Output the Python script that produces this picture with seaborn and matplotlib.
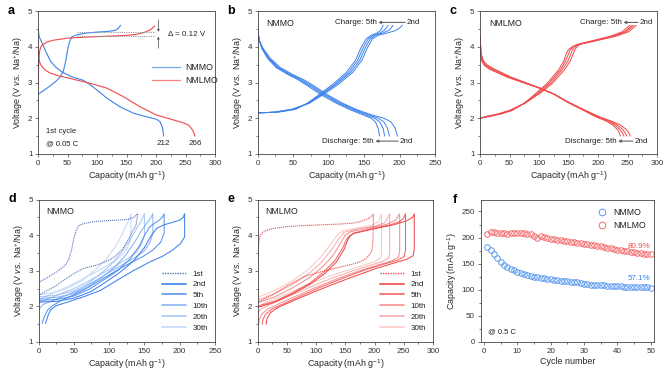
import numpy as np
import seaborn as sns
import matplotlib
matplotlib.use("Agg")
import matplotlib.pyplot as plt
from matplotlib.ticker import MultipleLocator
from matplotlib.lines import Line2D

BLUE = "#3d82ec"
RED = "#f04a4c"
BLUE_DOT = "#5a78b8"

# ---- panel a: 1st cycle at 0.05 C
a_nmmo_chg_q = [0, 10, 20, 30, 38, 43, 47, 50, 53, 57, 65, 80, 100, 120, 131, 136, 140]
a_nmmo_chg_v = [2.67, 2.78, 2.90, 3.03, 3.16, 3.32, 3.60, 3.90, 4.12, 4.27, 4.33, 4.38, 4.41, 4.43, 4.46, 4.51, 4.60]
a_nmmo_dis_q = [0, 2, 7, 14, 21, 30, 40, 57, 77, 90, 100, 117, 139, 162, 184, 201, 207, 211, 213]
a_nmmo_dis_v = [4.50, 4.28, 4.10, 3.84, 3.60, 3.43, 3.30, 3.16, 3.06, 2.92, 2.79, 2.56, 2.32, 2.14, 2.04, 1.97, 1.90, 1.74, 1.50]
a_nmlmo_chg_q = [0, 0.5, 1, 2, 3, 5, 8, 15, 25, 50, 80, 110, 140, 165, 180, 190, 198]
a_nmlmo_chg_v = [2.84, 3.10, 3.45, 3.75, 3.90, 4.00, 4.06, 4.13, 4.18, 4.24, 4.27, 4.29, 4.31, 4.34, 4.40, 4.47, 4.58]
a_nmlmo_dis_q = [0, 0.5, 1, 2, 4, 8, 12, 20, 32, 60, 88, 117, 145, 173, 201, 230, 245, 255, 260, 264, 266]
a_nmlmo_dis_v = [4.20, 3.95, 3.75, 3.62, 3.52, 3.42, 3.35, 3.27, 3.20, 3.09, 2.98, 2.84, 2.60, 2.32, 2.09, 1.95, 1.88, 1.81, 1.72, 1.60, 1.50]

# ---- panel b: NMMO cycles 2-5
b_chg_v = [2.15, 2.17, 2.25, 2.42, 2.68, 2.95, 3.28, 3.62, 3.98, 4.22, 4.32, 4.38, 4.45, 4.52, 4.60]
b_chg2_q = [0, 22, 48, 73, 94, 114, 134, 147, 155, 162, 170, 182, 194, 200, 204]
b_chg3_q = [0, 25, 50, 72, 92, 111, 131, 144, 152, 159, 166, 176, 184, 188, 191]
b_chg4_q = [0, 27, 52, 71, 90, 109, 128, 141, 149, 156, 163, 172, 178, 181, 184]
b_chg5_q = [0, 29, 54, 70, 88, 106, 125, 138, 146, 153, 160, 168, 173, 175, 177]
b_dis_v = [4.45, 4.15, 3.95, 3.68, 3.42, 3.22, 3.08, 2.90, 2.64, 2.42, 2.24, 2.10, 2.00, 1.90, 1.72, 1.50]
b_dis2_q = [0, 3, 8, 18, 32, 50, 65, 80, 100, 120, 140, 160, 178, 188, 194, 197]
b_dis3_q = [0, 3, 7, 16, 30, 47, 62, 77, 97, 117, 137, 156, 170, 178, 183, 186]
b_dis4_q = [0, 3, 7, 15, 28, 45, 59, 74, 94, 114, 134, 152, 165, 172, 177, 179]
b_dis5_q = [0, 3, 6, 14, 26, 43, 57, 71, 91, 111, 130, 148, 160, 166, 170, 172]

# ---- panel c: NMLMO cycles 2-5
c_chg_v = [2.00, 2.05, 2.12, 2.22, 2.42, 2.70, 2.98, 3.35, 3.60, 3.80, 3.92, 4.02, 4.07, 4.18, 4.30, 4.42, 4.60]
c_chg2_q = [0, 10, 30, 50, 76, 102, 123, 143, 153, 158, 161, 165, 171, 200, 232, 252, 265]
c_chg3_q = [0, 12, 32, 52, 76, 100, 120, 139, 149, 154, 157, 163, 169, 198, 229, 248, 261]
c_chg4_q = [0, 14, 34, 53, 75, 97, 117, 136, 145, 150, 153, 160, 168, 196, 225, 245, 258]
c_chg5_q = [0, 16, 36, 55, 75, 95, 114, 133, 142, 146, 150, 158, 166, 193, 222, 241, 254]
c_dis_v = [4.30, 3.80, 3.60, 3.48, 3.38, 3.15, 3.00, 2.85, 2.68, 2.45, 2.25, 2.05, 1.92, 1.82, 1.70, 1.60, 1.50]
c_dis2_q = [0, 2, 6, 13, 24, 53, 77, 101, 125, 150, 175, 201, 223, 237, 247, 252, 255]
c_dis3_q = [0, 2, 5, 11, 21, 50, 75, 100, 125, 150, 174, 199, 220, 232, 241, 246, 249]
c_dis4_q = [0, 1, 4, 9, 18, 48, 74, 100, 125, 149, 173, 197, 217, 228, 236, 241, 244]
c_dis5_q = [0, 1, 3, 7, 15, 46, 72, 99, 124, 148, 172, 195, 214, 224, 232, 236, 238]

# ---- panel d: NMMO long cycling (charge then discharge drawn back)
d_chg2_q = [0, 25, 50, 75, 95, 115, 135, 150, 160, 168, 178, 190, 200, 205, 207]
d_chg2_v = [2.12, 2.14, 2.23, 2.42, 2.68, 2.95, 3.28, 3.65, 4.00, 4.20, 4.29, 4.36, 4.42, 4.50, 4.60]
d_dis2_q = [207, 207, 201, 190, 175, 158, 135, 111, 88, 64, 41, 25, 17, 13, 10]
d_dis2_v = [4.60, 3.95, 3.76, 3.58, 3.40, 3.25, 3.01, 2.73, 2.45, 2.27, 2.12, 2.02, 1.90, 1.72, 1.52]
d_chg5_q = [0, 25, 50, 72, 92, 112, 130, 143, 151, 157, 164, 171, 176, 178]
d_chg5_v = [2.17, 2.19, 2.29, 2.48, 2.74, 3.00, 3.34, 3.70, 4.02, 4.22, 4.33, 4.42, 4.52, 4.60]
d_dis5_q = [178, 178, 173, 162, 148, 130, 110, 88, 66, 45, 30, 20, 13, 8, 5]
d_dis5_v = [4.60, 4.05, 3.80, 3.58, 3.40, 3.22, 3.00, 2.74, 2.48, 2.28, 2.14, 2.02, 1.90, 1.70, 1.52]
d_chg10_q = [0, 25, 50, 70, 90, 108, 124, 136, 145, 152, 158, 162]
d_chg10_v = [2.22, 2.25, 2.36, 2.55, 2.82, 3.10, 3.45, 3.80, 4.10, 4.30, 4.45, 4.60]
d_dis10_q = [162, 162, 158, 150, 137, 118, 98, 78, 58, 38, 20, 6, -2, -6]
d_dis10_v = [4.60, 4.05, 3.80, 3.56, 3.37, 3.16, 2.93, 2.69, 2.47, 2.30, 2.16, 2.05, 1.85, 1.50]
d_chg20_q = [0, 25, 50, 70, 88, 105, 120, 132, 140, 146, 150]
d_chg20_v = [2.27, 2.31, 2.44, 2.64, 2.92, 3.22, 3.58, 3.95, 4.22, 4.42, 4.60]
d_dis20_q = [150, 150, 146, 139, 127, 109, 90, 70, 50, 30, 12, 0, -5]
d_dis20_v = [4.60, 4.00, 3.76, 3.53, 3.35, 3.14, 2.92, 2.70, 2.50, 2.34, 2.20, 2.10, 1.50]
d_chg30_q = [0, 20, 40, 60, 78, 95, 108, 118, 125, 129, 131]
d_chg30_v = [2.33, 2.38, 2.50, 2.70, 2.98, 3.30, 3.65, 4.00, 4.30, 4.48, 4.60]
d_dis30_q = [131, 131, 128, 121, 111, 95, 77, 58, 40, 22, 8, 0, -4]
d_dis30_v = [4.60, 4.00, 3.72, 3.50, 3.32, 3.12, 2.92, 2.72, 2.54, 2.38, 2.25, 2.16, 1.50]

# ---- panel e: NMLMO long cycling
e_chg2_q = [0, 10, 30, 60, 90, 115, 135, 148, 154, 158, 165, 200, 235, 255, 265, 268]
e_chg2_v = [1.97, 2.02, 2.12, 2.35, 2.62, 2.92, 3.25, 3.60, 3.85, 3.97, 4.05, 4.18, 4.30, 4.40, 4.50, 4.60]
e_dis2_q = [268, 268, 266, 255, 230, 200, 175, 150, 120, 90, 60, 35, 22, 16, 15]
e_dis2_v = [4.60, 3.60, 3.42, 3.32, 3.20, 3.05, 2.90, 2.75, 2.56, 2.36, 2.15, 1.97, 1.82, 1.65, 1.50]
e_chg5_q = [0, 30, 60, 90, 113, 133, 146, 152, 157, 165, 195, 225, 243, 250, 253]
e_chg5_v = [2.00, 2.15, 2.38, 2.66, 2.96, 3.30, 3.65, 3.88, 3.98, 4.06, 4.18, 4.28, 4.38, 4.48, 4.60]
e_dis5_q = [253, 253, 251, 240, 215, 185, 160, 135, 105, 75, 48, 25, 14, 9, 8]
e_dis5_v = [4.60, 3.58, 3.40, 3.30, 3.18, 3.03, 2.88, 2.72, 2.52, 2.30, 2.10, 1.93, 1.78, 1.62, 1.50]
e_chg10_q = [0, 30, 60, 90, 112, 130, 142, 150, 160, 190, 220, 236, 243]
e_chg10_v = [2.10, 2.27, 2.52, 2.82, 3.12, 3.45, 3.78, 4.00, 4.10, 4.20, 4.30, 4.42, 4.60]
e_dis10_q = [243, 243, 241, 230, 205, 175, 150, 125, 95, 65, 40, 18, 7, 3, 2]
e_dis10_v = [4.60, 3.55, 3.38, 3.28, 3.16, 3.00, 2.86, 2.70, 2.50, 2.28, 2.10, 1.93, 1.78, 1.62, 1.50]
e_chg20_q = [0, 30, 60, 90, 110, 127, 140, 148, 170, 200, 218, 226]
e_chg20_v = [2.18, 2.36, 2.62, 2.95, 3.25, 3.60, 3.92, 4.08, 4.17, 4.25, 4.35, 4.60]
e_dis20_q = [226, 226, 224, 213, 190, 160, 135, 110, 80, 50, 25, 5, -3, -6]
e_dis20_v = [4.60, 3.50, 3.35, 3.26, 3.14, 2.98, 2.84, 2.68, 2.47, 2.26, 2.08, 1.92, 1.75, 1.50]
e_chg30_q = [0, 30, 60, 88, 108, 124, 137, 146, 170, 195, 207, 212]
e_chg30_v = [2.25, 2.45, 2.72, 3.05, 3.38, 3.72, 4.02, 4.12, 4.20, 4.27, 4.38, 4.60]
e_dis30_q = [212, 212, 210, 199, 175, 145, 120, 95, 65, 35, 10, -8, -12]
e_dis30_v = [4.60, 3.50, 3.35, 3.25, 3.12, 2.97, 2.83, 2.67, 2.46, 2.25, 2.08, 1.90, 1.50]

cycle_labels = ["2nd", "5th", "10th", "20th", "30th"]
cycle_alpha = [1.0, 0.85, 0.6, 0.45, 0.3]

# ---- panel f: cycling at 0.5 C
cycle_no = list(range(1, 51))
f_nmmo = [182, 176, 168, 160, 153, 148, 144, 140, 137, 134, 132, 130, 128, 127, 125, 124, 123, 122, 121, 120,
          119, 118, 117, 116, 116, 115, 115, 114, 113, 112, 111, 110, 110, 109, 109, 109, 108, 108, 108, 107,
          107, 106, 106, 106, 106, 105, 105, 105, 105, 104]
f_nmlmo = [207, 210, 211, 209, 209, 208, 207, 208, 209, 209, 209, 208, 207, 206, 203, 200, 203, 201, 199, 197,
           197, 195, 196, 194, 193, 192, 191, 190, 189, 188, 187, 186, 185, 184, 183, 182, 181, 180, 179, 177,
           176, 175, 174, 173, 172, 171, 170, 169, 168, 168]

sns.set_style("ticks")
plt.rcParams['font.family'] = ['Liberation Sans', 'DejaVu Sans']
plt.rcParams['mathtext.fontset'] = 'custom'
plt.rcParams['mathtext.rm'] = 'Liberation Sans'
plt.rcParams['mathtext.it'] = 'Liberation Sans:italic'
plt.rcParams['axes.edgecolor'] = '#444444'
plt.rcParams['text.color'] = '#222222'

FS_TICK = 5.8
FS_LAB = 6.4
FS_TXT = 5.8
VLABEL = "Voltage (V " + r"$\it{vs.}$" + " Na$^{+}$/Na)"
QLABEL = "Capacity (mAh g$^{-1}$)"

fig = plt.figure(figsize=(6.7, 3.74), dpi=100)


def add_ax(l, r, t, b):
    return fig.add_axes([l / 670, 1 - b / 374, (r - l) / 670, (b - t) / 374])


def style(ax, xlim, xstep, ylim, ystep, xlabel, ylabel, letter):
    ax.set_xlim(*xlim)
    ax.set_ylim(*ylim)
    ax.xaxis.set_major_locator(MultipleLocator(xstep))
    ax.xaxis.set_minor_locator(MultipleLocator(xstep / 2))
    ax.yaxis.set_major_locator(MultipleLocator(ystep))
    ax.yaxis.set_minor_locator(MultipleLocator(ystep / 2))
    ax.tick_params(which='major', direction='out', length=2.5, width=0.5, labelsize=FS_TICK, pad=1.5,
                   colors='#444444', labelcolor='#333333')
    ax.tick_params(which='minor', direction='out', length=1.5, width=0.5, colors='#444444')
    for s in ax.spines.values():
        s.set_linewidth(0.6)
        s.set_visible(True)
    ax.set_xlabel(xlabel, fontsize=FS_LAB, labelpad=2)
    ax.set_ylabel(ylabel, fontsize=FS_LAB, labelpad=2)
    ax.text(-0.15, 1.0, letter, transform=ax.transAxes, fontsize=9, fontweight='bold',
            ha='center', va='center', color='black')


def curve(ax, q, v, color, lw=0.7, alpha=1.0, ls='-'):
    sns.lineplot(x=q, y=v, ax=ax, sort=False, estimator=None, color=color, lw=lw, alpha=alpha,
                 linestyle=ls)


def arrow(ax, x0, x1, y):
    ax.annotate('', xy=(x1, y), xytext=(x0, y),
                arrowprops=dict(arrowstyle='-|>', color='#666666', lw=0.8, mutation_scale=4,
                                shrinkA=0, shrinkB=0))


# ---------- a
ax = add_ax(38, 215, 11, 154)
curve(ax, a_nmmo_chg_q, a_nmmo_chg_v, BLUE, 0.8)
curve(ax, a_nmmo_dis_q, a_nmmo_dis_v, BLUE, 0.8)
curve(ax, a_nmlmo_chg_q, a_nmlmo_chg_v, RED, 0.8)
curve(ax, a_nmlmo_dis_q, a_nmlmo_dis_v, RED, 0.8)
ax.hlines([4.41, 4.29], 66, 198, colors='#999999', linestyles=(0, (1, 1)), lw=0.8)
ax.annotate('', xy=(204, 4.42), xytext=(204, 4.75),
            arrowprops=dict(arrowstyle='-|>', color='#444444', lw=0.5, mutation_scale=3, shrinkA=0, shrinkB=0))
ax.annotate('', xy=(204, 4.28), xytext=(204, 3.96),
            arrowprops=dict(arrowstyle='-|>', color='#444444', lw=0.5, mutation_scale=3, shrinkA=0, shrinkB=0))
ax.text(221, 4.35, "Δ = 0.12 V", fontsize=FS_TXT, va='center')
ax.text(13, 1.62, "1st cycle", fontsize=FS_TXT - 0.3, va='center')
ax.text(13, 1.3, "@ 0.05 C", fontsize=FS_TXT - 0.3, va='center')
ax.text(212, 1.3, "212", fontsize=FS_TXT, va='center', ha='center')
ax.text(266, 1.3, "266", fontsize=FS_TXT, va='center', ha='center')
hs = [Line2D([], [], color=BLUE, lw=0.9, alpha=0.7), Line2D([], [], color=RED, lw=0.9, alpha=0.7)]
ax.legend(hs, ["NMMO", "NMLMO"], loc='center left', bbox_to_anchor=(0.6, 0.56), frameon=False,
          fontsize=FS_TXT + 0.5, handlelength=3.2, handletextpad=0.6, labelspacing=0.5)
style(ax, (0, 300), 50, (1, 5), 1, QLABEL, VLABEL, 'a')

# ---------- b
ax = add_ax(257.5, 435, 11, 154)
for q in [b_chg2_q, b_chg3_q, b_chg4_q, b_chg5_q]:
    curve(ax, q, b_chg_v, BLUE)
for q in [b_dis2_q, b_dis3_q, b_dis4_q, b_dis5_q]:
    curve(ax, q, b_dis_v, BLUE)
ax.text(13, 4.65, "NMMO", fontsize=FS_TXT + 0.5, va='center')
ax.text(168, 4.68, "Charge: 5th", fontsize=FS_TXT, va='center', ha='right')
arrow(ax, 208, 170, 4.68)
ax.text(210, 4.68, "2nd", fontsize=FS_TXT, va='center')
ax.text(163, 1.36, "Discharge: 5th", fontsize=FS_TXT, va='center', ha='right')
arrow(ax, 198, 166, 1.36)
ax.text(200, 1.36, "2nd", fontsize=FS_TXT, va='center')
style(ax, (0, 250), 50, (1, 5), 1, QLABEL, VLABEL, 'b')

# ---------- c
ax = add_ax(480, 657, 11, 154)
for q in [c_chg2_q, c_chg3_q, c_chg4_q, c_chg5_q]:
    curve(ax, q, c_chg_v, RED)
for q in [c_dis2_q, c_dis3_q, c_dis4_q, c_dis5_q]:
    curve(ax, q, c_dis_v, RED)
ax.text(15, 4.65, "NMLMO", fontsize=FS_TXT + 0.5, va='center')
ax.text(240, 4.68, "Charge: 5th", fontsize=FS_TXT, va='center', ha='right')
arrow(ax, 268, 243, 4.68)
ax.text(270, 4.68, "2nd", fontsize=FS_TXT, va='center')
ax.text(231, 1.36, "Discharge: 5th", fontsize=FS_TXT, va='center', ha='right')
arrow(ax, 259, 234, 1.36)
ax.text(262, 1.36, "2nd", fontsize=FS_TXT, va='center')
style(ax, (0, 300), 50, (1, 5), 1, QLABEL, VLABEL, 'c')

# ---------- d
ax = add_ax(38.5, 215, 199.5, 342)
d_first_q = a_nmmo_chg_q + list(140 - np.array(a_nmmo_dis_q))
d_first_v = a_nmmo_chg_v + a_nmmo_dis_v
curve(ax, d_first_q, d_first_v, BLUE_DOT, 0.8, 1.0, (0, (1, 0.8)))
d_sets = [(d_chg2_q, d_chg2_v, d_dis2_q, d_dis2_v), (d_chg5_q, d_chg5_v, d_dis5_q, d_dis5_v),
          (d_chg10_q, d_chg10_v, d_dis10_q, d_dis10_v), (d_chg20_q, d_chg20_v, d_dis20_q, d_dis20_v),
          (d_chg30_q, d_chg30_v, d_dis30_q, d_dis30_v)]
for (cq, cv, dq, dv), al in zip(d_sets, cycle_alpha):
    curve(ax, cq + dq, cv + dv, BLUE, 0.75, al)
ax.text(11, 4.65, "NMMO", fontsize=FS_TXT + 0.5, va='center')
hs = [Line2D([], [], color=BLUE_DOT, lw=1.0, ls=(0, (1, 0.8)))]
hs += [Line2D([], [], color=BLUE, lw=1.2, alpha=al) for al in cycle_alpha]
ax.legend(hs, ["1st"] + cycle_labels, loc='lower right', bbox_to_anchor=(1.0, 0.02), frameon=False,
          fontsize=FS_TXT, handlelength=3.0, handletextpad=0.8, labelspacing=0.4)
style(ax, (0, 250), 50, (1, 5), 1, QLABEL, VLABEL, 'd')

# ---------- e
ax = add_ax(257.5, 433, 199.5, 342)
e_first_q = a_nmlmo_chg_q + list(198 - np.array(a_nmlmo_dis_q))
e_first_v = a_nmlmo_chg_v + a_nmlmo_dis_v
curve(ax, e_first_q, e_first_v, RED, 0.8, 1.0, (0, (1, 0.8)))
e_sets = [(e_chg2_q, e_chg2_v, e_dis2_q, e_dis2_v), (e_chg5_q, e_chg5_v, e_dis5_q, e_dis5_v),
          (e_chg10_q, e_chg10_v, e_dis10_q, e_dis10_v), (e_chg20_q, e_chg20_v, e_dis20_q, e_dis20_v),
          (e_chg30_q, e_chg30_v, e_dis30_q, e_dis30_v)]
for (cq, cv, dq, dv), al in zip(e_sets, cycle_alpha):
    curve(ax, cq + dq, cv + dv, RED, 0.75, al)
ax.text(13, 4.65, "NMLMO", fontsize=FS_TXT + 0.5, va='center')
hs = [Line2D([], [], color=RED, lw=1.0, ls=(0, (1, 0.8)))]
hs += [Line2D([], [], color=RED, lw=1.2, alpha=al) for al in cycle_alpha]
ax.legend(hs, ["1st"] + cycle_labels, loc='lower right', bbox_to_anchor=(1.0, 0.02), frameon=False,
          fontsize=FS_TXT, handlelength=3.0, handletextpad=0.8, labelspacing=0.4)
style(ax, (0, 300), 50, (1, 5), 1, QLABEL, VLABEL, 'e')

# ---------- f
ax = add_ax(480.5, 654, 200, 342)
sns.lineplot(x=cycle_no, y=f_nmmo, ax=ax, marker='o', linestyle='', mfc='none', mec="#5b9af0",
             ms=4.0, mew=0.7, label="NMMO")
sns.lineplot(x=cycle_no, y=f_nmlmo, ax=ax, marker='o', linestyle='', mfc='none', mec="#f46a6a",
             ms=4.0, mew=0.7, label="NMLMO")
ax.legend(loc='upper right', bbox_to_anchor=(1.0, 1.0), frameon=False, fontsize=FS_TXT + 0.5,
          handletextpad=0.3, labelspacing=0.5, markerscale=1.2)
ax.text(50, 183, "80.9%", color="#f05050", fontsize=FS_TXT, ha='right', va='center')
ax.text(50, 122, "57.1%", color="#3d82ec", fontsize=FS_TXT, ha='right', va='center')
ax.text(1.3, 20, "@ 0.5 C", fontsize=FS_TXT - 0.3, va='center')
style(ax, (-1, 51), 10, (0, 272), 50, "Cycle number", "Capacity (mAh g$^{-1}$)", 'f')

fig.savefig("out.png", dpi=100)
